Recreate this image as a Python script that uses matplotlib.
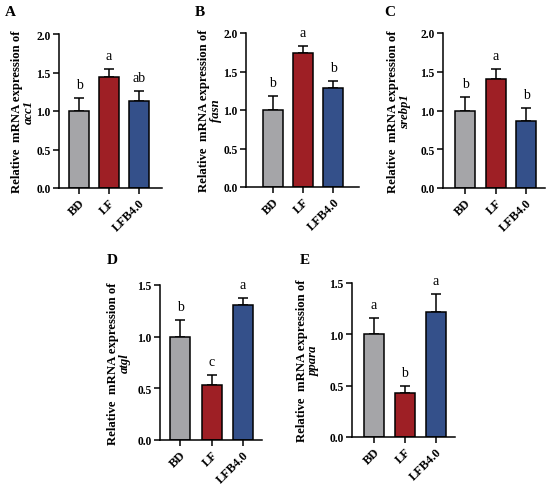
import numpy as np
import matplotlib
matplotlib.use('Agg')
import matplotlib.pyplot as plt

plt.rcParams['font.family'] = ['Liberation Serif', 'DejaVu Serif']
plt.rcParams['axes.linewidth'] = 1.1

# groups and bar colours
groups = ['BD', 'LF', 'LFB4.0']
colors = ['#a5a5a8', '#9e1f25', '#34508a']

# data per gene: means, upper error, letters
genes = ['acc1', 'fasn', 'srebp1', 'atgl', 'ppara']
panel_labels = ['A', 'B', 'C', 'D', 'E']
acc1_mean = [1.00, 1.44, 1.13]
acc1_err = [0.17, 0.10, 0.13]
acc1_sig = ['b', 'a', 'ab']
fasn_mean = [1.00, 1.74, 1.28]
fasn_err = [0.18, 0.09, 0.10]
fasn_sig = ['b', 'a', 'b']
srebp1_mean = [1.00, 1.41, 0.86]
srebp1_err = [0.17, 0.12, 0.17]
srebp1_sig = ['b', 'a', 'b']
atgl_mean = [1.00, 0.53, 1.31]
atgl_err = [0.16, 0.10, 0.06]
atgl_sig = ['b', 'c', 'a']
ppara_mean = [1.00, 0.43, 1.22]
ppara_err = [0.16, 0.07, 0.17]
ppara_sig = ['a', 'b', 'a']

means = [acc1_mean, fasn_mean, srebp1_mean, atgl_mean, ppara_mean]
errs = [acc1_err, fasn_err, srebp1_err, atgl_err, ppara_err]
sigs = [acc1_sig, fasn_sig, srebp1_sig, atgl_sig, ppara_sig]
ymax = [2.0, 2.0, 2.0, 1.5, 1.5]
yticks = [[0, 0.5, 1.0, 1.5, 2.0]] * 3 + [[0, 0.5, 1.0, 1.5]] * 2

W, H = 550, 485
fig = plt.figure(figsize=(W / 100, H / 100), dpi=100)

# layout in pixels: axis left, right, top, bottom, first bar centre, spacing
boxes = [
    (59, 162, 35, 189, 79, 30),
    (246, 359, 34, 188, 272.5, 30.3),
    (443, 545, 34, 189, 465, 30.5),
    (160, 262, 286, 441, 180, 31.5),
    (352, 455, 284, 438, 373.5, 31),
]
# ylabel offsets (px left of axis) and panel label positions
lab_off = [(42, 30), (42, 30), (50, 38), (47, 35), (50, 38)]
letter_pos = [(10, 12), (200, 12), (390, 12), (112, 260), (305, 260)]

for i in range(5):
    l, r, t, b, c0, s = boxes[i]
    ax = fig.add_axes([l / W, 1 - b / H, (r - l) / W, (b - t) / H])
    x = np.arange(3)
    ax.bar(x, means[i], width=20 / s, color=colors, edgecolor='black',
           linewidth=1.1, zorder=2)
    ax.errorbar(x, means[i], yerr=[[0, 0, 0], errs[i]], fmt='none',
                ecolor='black', elinewidth=1.1, capsize=3.5, capthick=1.1,
                zorder=1)
    for xi, m, e, sg in zip(x, means[i], errs[i], sigs[i]):
        ax.annotate(sg, (xi, m + e), xytext=(0, 5), textcoords='offset points',
                    ha='center', va='bottom', fontsize=10)
    ax.set_xlim((l - c0) / s, (r - c0) / s)
    ax.set_ylim(0, ymax[i])
    ax.set_yticks(yticks[i])
    ax.set_yticklabels(['%.1f' % v for v in yticks[i]], fontsize=8.3,
                       fontweight='bold')
    ax.set_xticks(x)
    ax.set_xticklabels(groups, rotation=45, ha='right', rotation_mode='anchor',
                       fontsize=9, fontweight='bold')
    ax.tick_params(direction='out', length=4, width=1.1, pad=2)
    ax.spines['top'].set_visible(False)
    ax.spines['right'].set_visible(False)

    yc = 1 - (t + b) / 2 / H
    fig.text((l - lab_off[i][0]) / W, yc, 'Relative  mRNA expression of',
             rotation=90, ha='center', va='center', fontsize=9.2,
             fontweight='bold')
    fig.text((l - lab_off[i][1]) / W, yc, genes[i], rotation=90,
             ha='center', va='center', fontsize=9.2, fontweight='bold',
             style='italic')
    fig.text(letter_pos[i][0] / W, 1 - letter_pos[i][1] / H, panel_labels[i],
             ha='center', va='center', fontsize=11, fontweight='bold')

fig.savefig('out.png', dpi=100)
